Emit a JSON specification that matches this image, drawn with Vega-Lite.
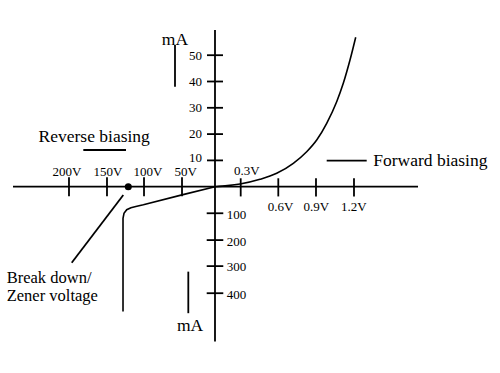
{
  "$schema": "https://vega.github.io/schema/vega-lite/v6.json",
  "width": 500,
  "height": 373,
  "autosize": {"type": "fit", "contains": "padding"},
  "padding": 0,
  "background": "white",
  "config": {"view": {"stroke": null}},
  "datasets": {
    "segments": [
      {"part": "x axis", "x": -5.358, "y": 0, "x2": 5.385, "y2": 0},
      {"part": "y axis", "x": 0, "y": 59.6, "x2": 0, "y2": -58.9},
      {"part": "tick 200V", "x": -3.873, "y": 3.6, "x2": -3.873, "y2": -3.6},
      {"part": "tick 150V", "x": -2.865, "y": 3.6, "x2": -2.865, "y2": -3.6},
      {"part": "tick 100V", "x": -1.883, "y": 3.6, "x2": -1.883, "y2": -3.6},
      {"part": "tick 50V", "x": -0.875, "y": 3.6, "x2": -0.875, "y2": -3.6},
      {"part": "tick 0.3V", "x": 0.682, "y": 3.2, "x2": 0.682, "y2": -3.7},
      {"part": "tick 0.6V", "x": 1.679, "y": 3.2, "x2": 1.679, "y2": -3.7},
      {"part": "tick 0.9V", "x": 2.679, "y": 3.2, "x2": 2.679, "y2": -3.7},
      {"part": "tick 1.2V", "x": 3.687, "y": 3.2, "x2": 3.687, "y2": -3.7},
      {"part": "tick 10", "x": -0.212, "y": 10, "x2": 0.212, "y2": 10},
      {"part": "tick 20", "x": -0.212, "y": 20, "x2": 0.212, "y2": 20},
      {"part": "tick 30", "x": -0.212, "y": 30, "x2": 0.212, "y2": 30},
      {"part": "tick 40", "x": -0.212, "y": 40, "x2": 0.212, "y2": 40},
      {"part": "tick 50", "x": -0.212, "y": 50, "x2": 0.212, "y2": 50},
      {"part": "tick 100", "x": -0.22, "y": -10.1, "x2": 0.22, "y2": -10.1},
      {"part": "tick 200", "x": -0.22, "y": -20.3, "x2": 0.22, "y2": -20.3},
      {"part": "tick 300", "x": -0.22, "y": -30.2, "x2": 0.22, "y2": -30.2},
      {"part": "tick 400", "x": -0.22, "y": -40.5, "x2": 0.22, "y2": -40.5},
      {"part": "reverse key", "x": -3.493, "y": 13.95, "x2": -2.361, "y2": 13.95},
      {"part": "forward key", "x": 2.963, "y": 9.9, "x2": 4.024, "y2": 9.9},
      {"part": "mA top bar", "x": -1.061, "y": 53.9, "x2": -1.061, "y2": 38.0},
      {"part": "mA bottom bar", "x": -0.708, "y": -32.3, "x2": -0.708, "y2": -48.1},
      {"part": "leader", "x": -2.432, "y": -3.16, "x2": -3.801, "y2": -28.9}
    ],
    "forward": [
      {"i": 0, "x": 0, "y": 0},
      {"i": 1, "x": 0.33, "y": 0.4},
      {"i": 2, "x": 0.663, "y": 1.03},
      {"i": 3, "x": 1.194, "y": 2.81},
      {"i": 4, "x": 1.637, "y": 5.1},
      {"i": 5, "x": 2.077, "y": 8.9},
      {"i": 6, "x": 2.432, "y": 13.31},
      {"i": 7, "x": 2.698, "y": 17.76},
      {"i": 8, "x": 2.963, "y": 24.11},
      {"i": 9, "x": 3.228, "y": 32.32},
      {"i": 10, "x": 3.403, "y": 39.32},
      {"i": 11, "x": 3.581, "y": 48.17},
      {"i": 12, "x": 3.732, "y": 56.81}
    ],
    "reverse": [
      {"i": 0, "x": 0, "y": 0},
      {"i": 1, "x": -0.875, "y": -3.1},
      {"i": 2, "x": -1.9, "y": -6.9},
      {"i": 3, "x": -2.1, "y": -7.55},
      {"i": 4, "x": -2.23, "y": -8.0},
      {"i": 5, "x": -2.342, "y": -8.75},
      {"i": 6, "x": -2.414, "y": -10.11},
      {"i": 7, "x": -2.44, "y": -12.0},
      {"i": 8, "x": -2.44, "y": -47.5}
    ],
    "dot": [{"x": -2.3, "y": 0}],
    "xlabels": [
      {"t": "200V", "x": -3.926, "y": 5.59},
      {"t": "150V", "x": -2.838, "y": 5.59},
      {"t": "100V", "x": -1.777, "y": 5.59},
      {"t": "50V", "x": -0.775, "y": 5.59},
      {"t": "0.3V", "x": 0.841, "y": 6.08},
      {"t": "0.6V", "x": 1.737, "y": -7.83},
      {"t": "0.9V", "x": 2.687, "y": -7.83},
      {"t": "1.2V", "x": 3.682, "y": -7.83}
    ],
    "ylabelsPos": [
      {"t": "50", "x": -0.345, "y": 49.8},
      {"t": "40", "x": -0.345, "y": 39.8},
      {"t": "30", "x": -0.345, "y": 29.8},
      {"t": "20", "x": -0.345, "y": 20.0},
      {"t": "10", "x": -0.345, "y": 10.9}
    ],
    "ylabelsNeg": [
      {"t": "100", "x": 0.31, "y": -10.76},
      {"t": "200", "x": 0.31, "y": -20.9},
      {"t": "300", "x": 0.31, "y": -30.6},
      {"t": "400", "x": 0.31, "y": -41.2}
    ],
    "captionsCenter": [
      {"t": "mA", "x": -1.061, "y": 55.8},
      {"t": "mA", "x": -0.663, "y": -53.0},
      {"t": "Reverse biasing", "x": -3.204, "y": 18.8},
      {"t": "Forward biasing", "x": 5.713, "y": 9.9}
    ],
    "captionsLeft": [
      {"t": "Break down/", "x": -5.525, "y": -34.7},
      {"t": "Zener voltage", "x": -5.525, "y": -41.7}
    ]
  },
  "encoding": {
    "x": {"field": "x", "type": "quantitative", "axis": null, "scale": {"domain": [-5.703, 7.56], "nice": false, "zero": false}},
    "y": {"field": "y", "type": "quantitative", "axis": null, "scale": {"domain": [-70.84, 70.99], "nice": false, "zero": false}}
  },
  "layer": [
    {
      "data": {"name": "segments"},
      "mark": {"type": "rule", "color": "black", "strokeWidth": 1.8},
      "encoding": {
        "x2": {"field": "x2"},
        "y2": {"field": "y2"}
      }
    },
    {
      "data": {"name": "forward"},
      "mark": {"type": "line", "color": "black", "strokeWidth": 1.6, "interpolate": "monotone"},
      "encoding": {"order": {"field": "i", "type": "quantitative"}}
    },
    {
      "data": {"name": "reverse"},
      "mark": {"type": "line", "color": "black", "strokeWidth": 1.6, "interpolate": "linear"},
      "encoding": {"order": {"field": "i", "type": "quantitative"}}
    },
    {
      "data": {"name": "dot"},
      "mark": {"type": "point", "filled": true, "color": "black", "size": 50, "opacity": 1}
    },
    {
      "data": {"name": "xlabels"},
      "mark": {"type": "text", "font": "Liberation Serif", "fontSize": 13, "align": "center", "baseline": "middle", "color": "black"},
      "encoding": {"text": {"field": "t"}}
    },
    {
      "data": {"name": "ylabelsPos"},
      "mark": {"type": "text", "font": "Liberation Serif", "fontSize": 13, "align": "right", "baseline": "middle", "color": "black"},
      "encoding": {"text": {"field": "t"}}
    },
    {
      "data": {"name": "ylabelsNeg"},
      "mark": {"type": "text", "font": "Liberation Serif", "fontSize": 13, "align": "left", "baseline": "middle", "color": "black"},
      "encoding": {"text": {"field": "t"}}
    },
    {
      "data": {"name": "captionsCenter"},
      "mark": {"type": "text", "font": "Liberation Serif", "fontSize": 17.5, "align": "center", "baseline": "middle", "color": "black"},
      "encoding": {"text": {"field": "t"}}
    },
    {
      "data": {"name": "captionsLeft"},
      "mark": {"type": "text", "font": "Liberation Serif", "fontSize": 16.5, "align": "left", "baseline": "middle", "color": "black"},
      "encoding": {"text": {"field": "t"}}
    }
  ]
}
